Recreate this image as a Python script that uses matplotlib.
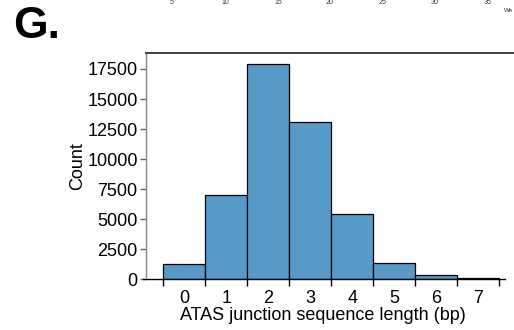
import matplotlib
matplotlib.use("Agg")
import matplotlib.pyplot as plt
from matplotlib.ticker import FixedLocator, NullFormatter

plt.rcParams['font.family'] = ['Liberation Sans', 'DejaVu Sans']

lengths = [0, 1, 2, 3, 4, 5, 6, 7]
counts = [1250, 7000, 17900, 13050, 5400, 1330, 360, 110]
y_ticks = [0, 2500, 5000, 7500, 10000, 12500, 15000, 17500]
top_ticks = ["5", "10", "15", "20", "25", "30", "35"]

W, H = 514, 330
fig = plt.figure(figsize=(W / 100, H / 100), dpi=100)
ax = fig.add_axes([146 / W, (H - 279.3) / H, (514 - 146) / W, (279.3 - 53) / H])

bar_color = (87 / 255, 153 / 255, 199 / 255)
ax.bar(lengths, counts, width=1.0, color=bar_color, edgecolor='black', linewidth=0.9)

ax.set_xlim(-0.912, 7.85)
ax.set_ylim(0, 18830)

ax.spines['right'].set_visible(False)
ax.spines['top'].set_color('#333333')
ax.spines['top'].set_linewidth(1.3)
ax.spines['left'].set_color('#888888')
ax.spines['left'].set_linewidth(1.0)
ax.spines['left'].set_bounds(150, 18830)
ax.spines['bottom'].set_color('black')
ax.spines['bottom'].set_linewidth(1.0)
ax.spines['bottom'].set_bounds(-0.98, 7.64)
ax.spines['bottom'].set_clip_on(False)

edges = [x - 0.5 for x in lengths] + [lengths[-1] + 0.5]
ax.xaxis.set_major_locator(FixedLocator(edges))
ax.xaxis.set_major_formatter(NullFormatter())
ax.set_xticks(lengths, minor=True)
ax.set_xticklabels([str(v) for v in lengths], minor=True, fontsize=13)
ax.tick_params(axis='x', which='major', length=5, width=1, color='black', direction='out')
ax.tick_params(axis='x', which='minor', length=0, pad=8)

ax.set_yticks(y_ticks)
ax.set_yticklabels([str(v) for v in y_ticks], fontsize=13)
ax.tick_params(axis='y', length=4, width=1, color='#666666', pad=2)

ax.set_xlabel("ATAS junction sequence length (bp)", fontsize=13)
ax.xaxis.set_label_coords((323 - 146) / 368, -0.122)
ax.set_ylabel("Count", fontsize=13, labelpad=1)

fig.text(13 / W, 1 - 38.5 / H, "G.", fontsize=32, fontweight='bold', ha='left', va='baseline')

top_x = [172, 225, 278, 330, 383, 435, 488]
for x, t in zip(top_x, top_ticks):
    fig.text(x / W, 1 - 2 / H, t, fontsize=5, ha='center', va='center', color='#333333')
fig.text(504 / W, 1 - 10 / H, "We", fontsize=4.5, ha='left', va='center', color='#333333')

fig.savefig("out.png", dpi=100)
